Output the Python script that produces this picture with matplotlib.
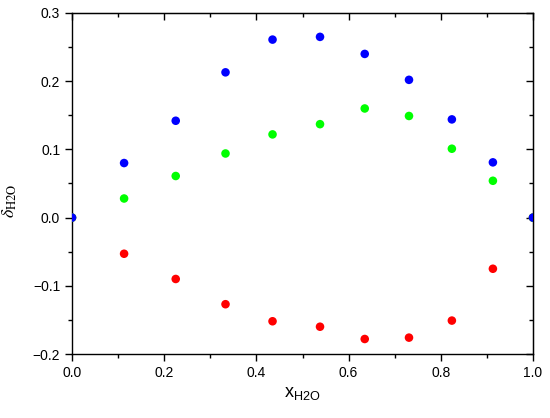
import numpy as np
import matplotlib
matplotlib.use("Agg")
import matplotlib.pyplot as plt
from matplotlib.ticker import MultipleLocator, FuncFormatter

plt.rcParams['font.family'] = ['Liberation Sans', 'DejaVu Sans']
plt.rcParams['mathtext.fontset'] = 'stix'

# mole fraction of water
x_h2o = [0.0, 0.113, 0.225, 0.333, 0.435, 0.538, 0.635, 0.731, 0.824, 0.913, 1.0]
# blue series
d_blue = [0.0, 0.080, 0.142, 0.213, 0.261, 0.265, 0.240, 0.202, 0.144, 0.081, 0.0]
# green series
d_green = [0.0, 0.028, 0.061, 0.094, 0.122, 0.137, 0.160, 0.149, 0.101, 0.054, 0.0]
# red series
d_red = [0.0, -0.053, -0.090, -0.127, -0.152, -0.160, -0.178, -0.176, -0.151, -0.075, 0.0]

def fmt(v, pos):
    return ('%.1f' % v).replace('-', '\u2212')

fig = plt.figure(figsize=(5.5, 4.18), dpi=100)
ax = fig.add_axes([72/550, 1-354/418, (533-72)/550, (354-13)/418])

ax.scatter(x_h2o, d_red, s=38, color='#ff0000', edgecolors='none', zorder=3)
ax.scatter(x_h2o, d_green, s=38, color='#00ff00', edgecolors='none', zorder=3)
ax.scatter(x_h2o, d_blue, s=38, color='#0000ff', edgecolors='none', zorder=4)

ax.set_xlim(0, 1)
ax.set_ylim(-0.2, 0.3)
ax.xaxis.set_major_locator(MultipleLocator(0.2))
ax.xaxis.set_minor_locator(MultipleLocator(0.1))
ax.yaxis.set_major_locator(MultipleLocator(0.1))
ax.yaxis.set_minor_locator(MultipleLocator(0.05))
ax.xaxis.set_major_formatter(FuncFormatter(fmt))
ax.yaxis.set_major_formatter(FuncFormatter(fmt))

for s in ax.spines.values():
    s.set_linewidth(1.0)

ax.tick_params(which='both', direction='out', labelsize=10, width=1.0)
ax.tick_params(which='major', length=5, pad=3.5)
ax.tick_params(which='minor', length=3)

# mirrored ticks pointing inward on top and right
sec_x = ax.secondary_xaxis('top')
sec_x.xaxis.set_major_locator(MultipleLocator(0.2))
sec_x.xaxis.set_minor_locator(MultipleLocator(0.1))
sec_x.tick_params(which='both', direction='in', labeltop=False, width=1.0)
sec_x.tick_params(which='major', length=5)
sec_x.tick_params(which='minor', length=3)
sec_y = ax.secondary_yaxis('right')
sec_y.yaxis.set_major_locator(MultipleLocator(0.1))
sec_y.yaxis.set_minor_locator(MultipleLocator(0.05))
sec_y.tick_params(which='both', direction='in', labelright=False, width=1.0)
sec_y.tick_params(which='major', length=5)
sec_y.tick_params(which='minor', length=3)

ax.set_xlabel(r'$\mathregular{x_{H2O}}$', fontsize=13)
ax.set_ylabel(r'$\delta_{\mathrm{H2O}}$', fontsize=13)
ax.yaxis.set_label_coords(-0.115, 0.45)

fig.savefig('out.png', dpi=100)
